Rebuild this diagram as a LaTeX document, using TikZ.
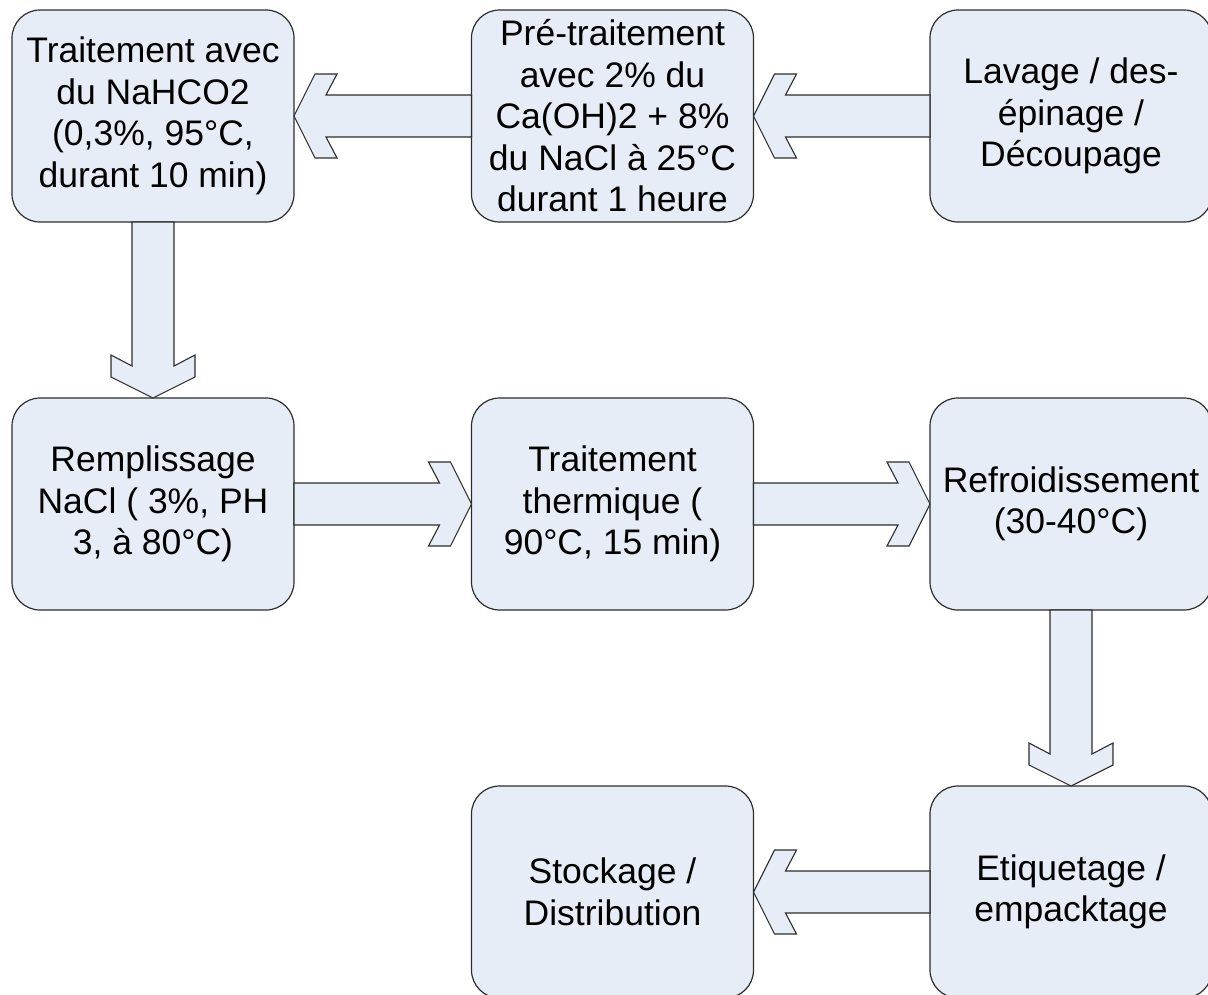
\documentclass[tikz,border=0pt]{standalone}
\usepackage{fontspec}
\setmainfont{Liberation Sans}
\usetikzlibrary{calc}
\definecolor{boxfill}{RGB}{231,237,247}
\definecolor{edgecol}{RGB}{45,45,45}
\tikzset{
  procbox/.style={draw=edgecol, fill=boxfill, line width=1.2pt, rounded corners=28pt,
    minimum width=282pt, minimum height=212pt, inner sep=0pt, outer sep=0pt,
    align=center, font=\fontsize{35.5}{41.5}\selectfont},
  fatstyle/.style={draw=edgecol, fill=boxfill, line width=1.1pt, line join=miter}
}
\newcommand\fatarrow[2]{%
  \path ($(#2)!21pt!(#1)$) coordinate (fa1)
        ($(#2)!32pt!(#1)$) coordinate (fa2)
        ($(#2)!43pt!(#1)$) coordinate (fa3);
  \draw[fatstyle] (#2) -- ($(fa1)!42pt!90:(#1)$) -- ($(fa3)!42pt!90:(#1)$)
    -- ($(fa2)!21pt!90:(#1)$) -- ($(#1)!21pt!-90:(#2)$) -- ($(#1)!21pt!90:(#2)$)
    -- ($(fa2)!21pt!-90:(#1)$) -- ($(fa3)!42pt!-90:(#1)$) -- ($(fa1)!42pt!-90:(#1)$) -- cycle;
}
\begin{document}
\begin{tikzpicture}[x=1pt,y=-1pt]
\useasboundingbox (0,0) rectangle (1208,994);
\clip (0,0) rectangle (1208,994);
\fill[white] (0,0) rectangle (1208,994);
\node[procbox] (b1) at (153,116) {Traitement avec\\du NaHCO2\\(0,3\%, 95°C,\\durant 10 min)};
\node[procbox] (b2) at (612.5,116) {Pré-traitement\\avec 2\% du\\Ca(OH)2 + 8\%\\du NaCl à 25°C\\durant 1 heure};
\node[procbox] (b3) at (1071,116) {Lavage / des-\\épinage /\\Découpage};
\node[procbox] (b4) at (153,504) {Remplissage\\NaCl ( 3\%, PH\\3, à 80°C)};
\node[procbox] (b5) at (612.5,504) {Traitement\\thermique (\\90°C, 15 min)};
\node[procbox] (b6) at (1071,504) {Refroidissement\\(30-40°C)};
\node[procbox] (b7) at (612.5,892) {Stockage /\\Distribution};
\node[procbox] (b8) at (1071,892) {Etiquetage /\\empacktage};
\fatarrow{b2.west}{b1.east}
\fatarrow{b3.west}{b2.east}
\fatarrow{b1.south}{b4.north}
\fatarrow{b4.east}{b5.west}
\fatarrow{b5.east}{b6.west}
\fatarrow{b6.south}{b8.north}
\fatarrow{b8.west}{b7.east}
\end{tikzpicture}
\end{document}
